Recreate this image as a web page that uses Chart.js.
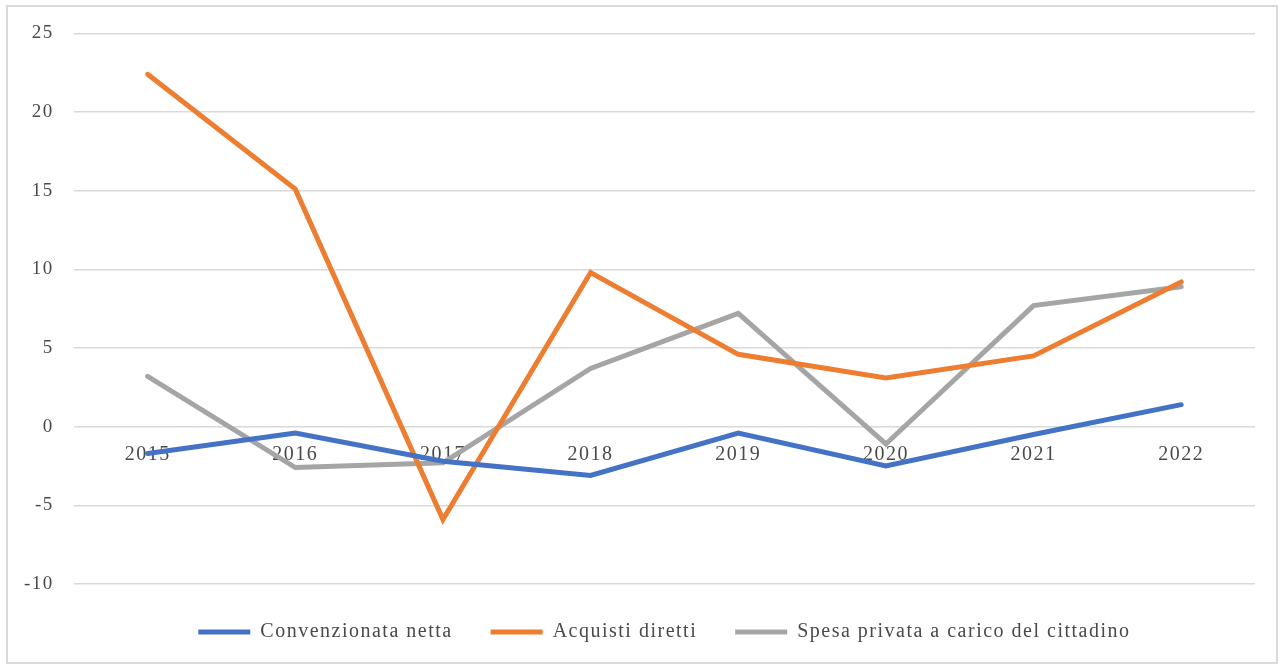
<!DOCTYPE html>
<html lang="it">
<head>
  <meta charset="UTF-8">
  <title>Variazione spesa farmaceutica</title>
  <script src="https://cdn.jsdelivr.net/npm/chart.js"></script>
  <style>
    body {
      margin: 0;
      background: #fff;
    }

    #frame {
      position: absolute;
      left: 6px;
      top: 5px;
      width: 1268px;
      height: 655px;
      border: 2px solid #d9d9d9;
      overflow: hidden;
    }

    #wrap {
      position: absolute;
      left: 0;
      top: -5px;
      width: 1268px;
      height: 660px;
    }
  </style>
</head>
<body>
  <div id="frame">
    <div id="wrap">
      <canvas id="chart"></canvas>
    </div>
  </div>
  <script>
    const years = ["2015", "2016", "2017", "2018", "2019", "2020", "2021", "2022"];
    const convenzionata = [-1.7, -0.4, -2.2, -3.1, -0.4, -2.5, -0.5, 1.4];
    const acquisti = [22.4, 15.1, -5.9, 9.8, 4.6, 3.1, 4.5, 9.2];
    const spesaPrivata = [3.2, -2.6, -2.3, 3.7, 7.2, -1.1, 7.7, 8.9];
    const seriesNames = ["Convenzionata netta", "Acquisti diretti", "Spesa privata a carico del cittadino"];

    const fontFamily = "'Liberation Serif', 'DejaVu Serif', serif";
    const textColor = "#4a4a4a";

    // spaziatura delle lettere come nel grafico originale
    const spacing = {
      id: "spacing",
      beforeUpdate(chart) { chart.ctx.letterSpacing = "1.5px"; },
      beforeDraw(chart) { chart.ctx.letterSpacing = "1.5px"; }
    };

    function serie(label, data, color) {
      return {
        label: label,
        data: data,
        borderColor: color,
        backgroundColor: color,
        borderWidth: 5,
        borderCapStyle: "round",
        borderJoinStyle: "miter",
        pointRadius: 0,
        tension: 0
      };
    }

    new Chart(document.getElementById("chart"), {
      type: "line",
      plugins: [spacing],
      data: {
        labels: years,
        datasets: [
          serie(seriesNames[0], convenzionata, "#4472C4"),
          serie(seriesNames[1], acquisti, "#ED7D31"),
          serie(seriesNames[2], spesaPrivata, "#A5A5A5")
        ]
      },
      options: {
        responsive: true,
        maintainAspectRatio: false,
        animation: false,
        layout: {
          padding: { left: -4, right: 21, top: 0, bottom: 10 }
        },
        plugins: {
          tooltip: { enabled: false },
          legend: {
            position: "bottom",
            fullSize: false,
            labels: {
              boxWidth: 52,
              boxHeight: 5,
              padding: 38,
              color: textColor,
              font: { family: fontFamily, size: 20 },
              generateLabels(chart) {
                return Chart.defaults.plugins.legend.labels.generateLabels(chart).map(function (l) {
                  l.lineWidth = 0;
                  return l;
                });
              }
            }
          }
        },
        scales: {
          x: {
            position: { y: 0 },
            offset: true,
            grid: { display: false, drawTicks: false },
            border: { display: false },
            ticks: {
              color: textColor,
              padding: 16,
              font: { family: fontFamily, size: 20 }
            }
          },
          y: {
            min: -10,
            max: 25,
            grid: { color: "#d9d9d9", lineWidth: 1.5, drawTicks: false },
            border: { display: false },
            ticks: {
              stepSize: 5,
              padding: 20,
              color: textColor,
              font: { family: fontFamily, size: 19 }
            }
          }
        }
      }
    });
  </script>
</body>
</html>
